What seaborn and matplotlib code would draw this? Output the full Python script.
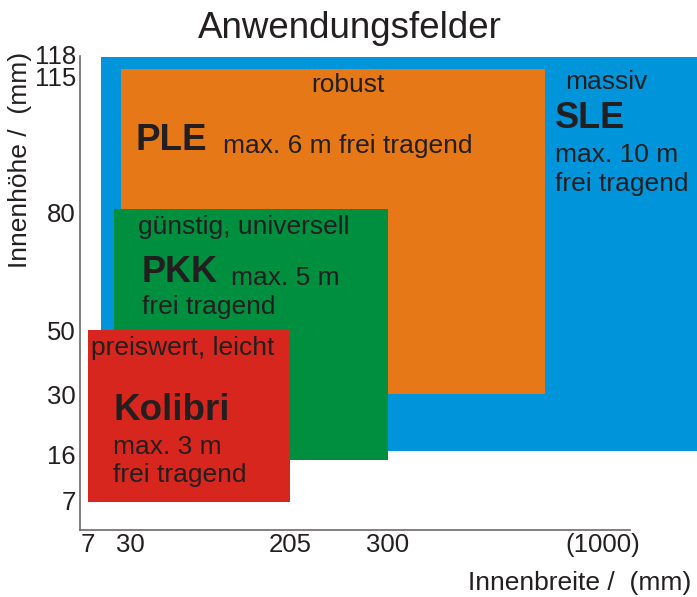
import numpy as np
import matplotlib
matplotlib.use("Agg")
import matplotlib.pyplot as plt
import seaborn as sns

# ranges (mm) covered by each product line
products = ["SLE", "PLE", "PKK", "Kolibri"]
width_from = [14, 25, 21, 7]
width_to = [1200, 810, 300, 205]
height_from = [17, 30, 15, 6.5]
height_to = [117.6, 116, 81, 50]
colors = ["#0095db", "#e77817", "#008f3f", "#d7261e"]

# axis ticks (non linear, schematic)
x_ticks = [7, 30, 205, 300, 1000]
x_ticklabels = ["7", "30", "205", "300", "(1000)"]
y_ticks = [7, 16, 30, 50, 80, 115, 118]

# piecewise axis: value -> pixel
x_knots = [0, 7, 30, 205, 300, 1000, 1200]
x_pix = [80, 88, 130, 290, 388, 603, 697]
y_knots = [0, 7, 16, 30, 50, 80, 115, 118]
y_pix = [530, 500, 455, 394, 330, 213, 77, 54]

W, H = 697, 597

sns.set_theme(style="white")
plt.rcParams["font.family"] = ["Liberation Sans", "DejaVu Sans"]
ink = "#231f20"

fig = plt.figure(figsize=(W / 100, H / 100), dpi=100)
ax = fig.add_axes([80 / W, (H - 530) / H, (697 - 80) / W, (530 - 54) / H])

xs = np.array(x_pix, float)
ys = -np.array(y_pix, float)
ax.set_xscale("function", functions=(lambda v: np.interp(v, x_knots, xs),
                                     lambda p: np.interp(p, xs, x_knots)))
ax.set_yscale("function", functions=(lambda v: np.interp(v, y_knots, ys),
                                     lambda p: np.interp(p, ys, y_knots)))
ax.set_xlim(0, 1200)
ax.set_ylim(0, 118)

for i in range(len(products)):
    ax.bar(width_from[i], height_to[i] - height_from[i], width=width_to[i] - width_from[i],
           bottom=height_from[i], align="edge", color=colors[i], linewidth=0, clip_on=False)

ax.set_xticks(x_ticks)
ax.set_xticklabels(x_ticklabels)
ax.set_yticks(y_ticks)
ax.minorticks_off()
ax.tick_params(axis="both", length=0, labelsize=18.5, colors=ink)
ax.tick_params(axis="x", pad=2)
ax.tick_params(axis="y", pad=3)
for s in ["top", "right"]:
    ax.spines[s].set_visible(False)
for s in ["left", "bottom"]:
    ax.spines[s].set_color("#6d6a66")
    ax.spines[s].set_linewidth(1.2)
ax.spines["bottom"].set_bounds(0, 1057)
ax.spines["left"].set_bounds(0, 117.8)
ax.grid(False)


def label(x, y, s, size=19, weight="normal", ha="left", rot=0):
    fig.text(x / W, 1 - y / H, s, fontsize=size, fontweight=weight, color=ink,
             ha=ha, va="center", rotation=rot)


label(350, 29, "Anwendungsfelder", size=26.5, ha="center")
label(580, 583, "Innenbreite /  (mm)", ha="center")
label(20, 160, "Innenhöhe /  (mm)", ha="center", rot=90)

label(311, 85, "robust")
label(136, 141, "PLE", size=26.5, weight="bold")
label(223, 146, "max. 6 m frei tragend")

label(565, 82, "massiv")
label(555, 118, "SLE", size=26, weight="bold")
label(555, 155, "max. 10 m")
label(555, 184, "frei tragend")

label(138, 227, "günstig, universell")
label(142, 273, "PKK", size=26, weight="bold")
label(231, 278, "max. 5 m")
label(142, 307, "frei tragend")

label(91, 348, "preiswert, leicht")
label(114, 410, "Kolibri", size=26.5, weight="bold")
label(113, 447, "max. 3 m")
label(113, 475, "frei tragend")

fig.savefig("out.png", dpi=100)
